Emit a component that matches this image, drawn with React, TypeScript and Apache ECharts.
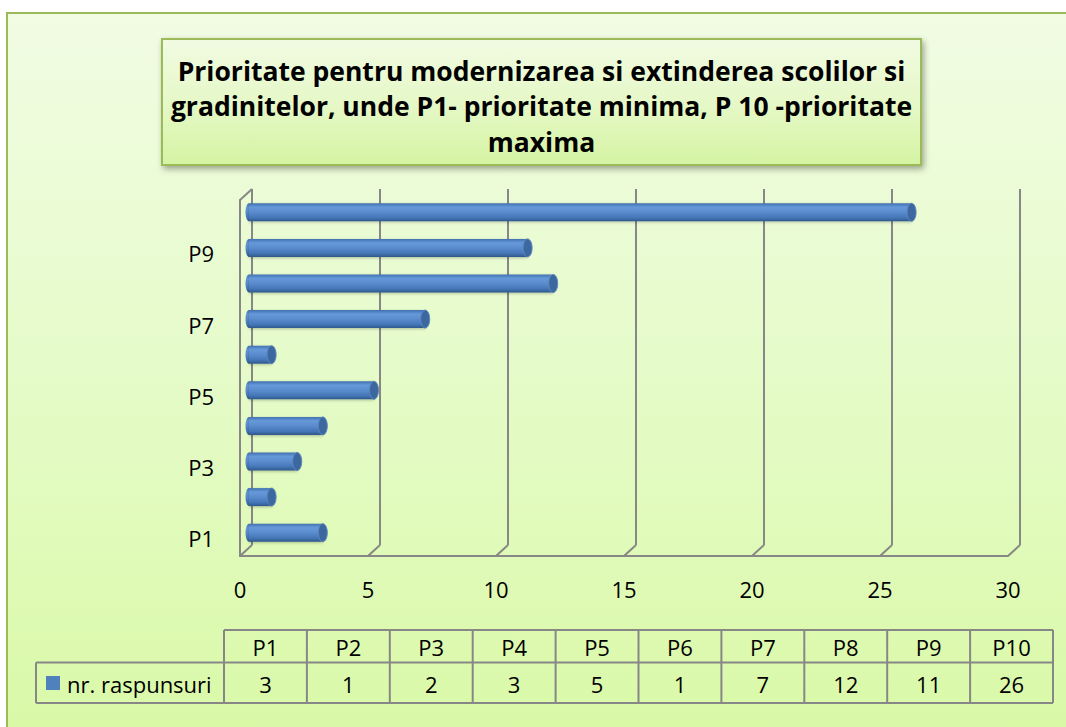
import React, { useEffect, useRef } from "react";
import * as echarts from "echarts";

// ---------- data ----------
const categories = ["P1", "P2", "P3", "P4", "P5", "P6", "P7", "P8", "P9", "P10"];
const values = [3, 1, 2, 3, 5, 1, 7, 12, 11, 26];
const seriesName = "nr. raspunsuri";
const xTicks = [0, 5, 10, 15, 20, 25, 30];
const titleLines = [
  "Prioritate pentru modernizarea si extinderea scolilor si",
  "gradinitelor, unde P1- prioritate minima, P 10 -prioritate",
  "maxima",
];

// ---------- layout ----------
const FRONT = { left: 240, top: 200, width: 768, height: 356 };
const DX = 12;
const DY = -11;
const GRID_COLOR = "#878787";
const FONT = "'Open Sans', Lato, sans-serif";
const LABEL_SIZE = 22;

const TABLE = { labelLeft: 36, left: 224, right: 1053, top: 630, mid: 662.5, bottom: 703 };

function buildTable(): any[] {
  const els: any[] = [];
  const n = categories.length;
  const colW = (TABLE.right - TABLE.left) / n;
  const line = (x1: number, y1: number, x2: number, y2: number) => ({
    type: "line",
    z: 10,
    shape: { x1, y1, x2, y2 },
    style: { stroke: GRID_COLOR, lineWidth: 2 },
  });
  els.push(line(TABLE.left, TABLE.top, TABLE.right, TABLE.top));
  els.push(line(TABLE.labelLeft, TABLE.mid, TABLE.right, TABLE.mid));
  els.push(line(TABLE.labelLeft, TABLE.bottom, TABLE.right, TABLE.bottom));
  els.push(line(TABLE.labelLeft, TABLE.mid, TABLE.labelLeft, TABLE.bottom));
  for (let i = 0; i <= n; i++) {
    const x = TABLE.left + i * colW;
    els.push(line(x, TABLE.top, x, TABLE.bottom));
  }
  const txt = (text: string, x: number, y: number, align: string) => ({
    type: "text",
    z: 10,
    style: {
      text,
      x,
      y,
      align,
      verticalAlign: "middle",
      textAlign: align,
      textVerticalAlign: "middle",
      fontSize: LABEL_SIZE,
      fontFamily: FONT,
      fill: "#000",
    },
  });
  for (let i = 0; i < n; i++) {
    const cx = TABLE.left + (i + 0.5) * colW;
    els.push(txt(categories[i], cx, (TABLE.top + TABLE.mid) / 2 + 1, "center"));
    els.push(txt(String(values[i]), cx, (TABLE.mid + TABLE.bottom) / 2 + 1, "center"));
  }
  els.push({
    type: "rect",
    z: 10,
    shape: { x: 46, y: 676, width: 14, height: 14 },
    style: { fill: "#4F81BD" },
  });
  els.push(txt(seriesName, 67, (TABLE.mid + TABLE.bottom) / 2 + 1, "left"));
  return els;
}

export default function App() {
  const ref = useRef<HTMLDivElement>(null);

  useEffect(() => {
    if (!ref.current) return;
    const chart = echarts.init(ref.current, undefined, { renderer: "svg" });

    const barGradient = new echarts.graphic.LinearGradient(0, 0, 0, 1, [
      { offset: 0, color: "#4171B0" },
      { offset: 0.22, color: "#6699DA" },
      { offset: 0.5, color: "#5A8BCD" },
      { offset: 0.8, color: "#4576B7" },
      { offset: 1, color: "#2E5889" },
    ]);

    const option: any = {
      animation: false,
      backgroundColor: "#ffffff",
      grid: [
        { left: FRONT.left, top: FRONT.top, width: FRONT.width, height: FRONT.height },
        { left: FRONT.left + DX, top: FRONT.top + DY, width: FRONT.width, height: FRONT.height },
      ],
      xAxis: [
        {
          gridIndex: 0,
          type: "value",
          min: 0,
          max: 30,
          interval: 5,
          axisLine: { show: true, lineStyle: { color: GRID_COLOR, width: 2 } },
          axisTick: { show: false },
          splitLine: { show: false },
          axisLabel: { margin: 22, fontSize: LABEL_SIZE, fontFamily: FONT, color: "#000" },
        },
        {
          gridIndex: 1,
          type: "value",
          min: 0,
          max: 30,
          interval: 5,
          axisLine: { show: false },
          axisTick: { show: false },
          axisLabel: { show: false },
          splitLine: { show: true, lineStyle: { color: GRID_COLOR, width: 2 } },
        },
      ],
      yAxis: [
        {
          gridIndex: 0,
          type: "category",
          data: categories,
          axisLine: { show: true, lineStyle: { color: GRID_COLOR, width: 2 } },
          axisTick: { show: false },
          splitLine: { show: false },
          axisLabel: { interval: 1, margin: 26, fontSize: LABEL_SIZE, fontFamily: FONT, color: "#000" },
        },
        {
          gridIndex: 1,
          type: "category",
          data: categories,
          show: false,
        },
      ],
      graphic: [
        {
          type: "rect",
          z: -10,
          silent: true,
          shape: { x: 7, y: 13, width: 1085, height: 740 },
          style: {
            fill: new echarts.graphic.LinearGradient(0, 0, 0, 1, [
              { offset: 0, color: "#F1FCE3" },
              { offset: 0.5, color: "#E5FBC8" },
              { offset: 1, color: "#D9F9A5" },
            ]),
            stroke: "#9BBB59",
            lineWidth: 2,
          },
        },
        {
          type: "rect",
          z: -5,
          silent: true,
          shape: { x: 162, y: 39, width: 759, height: 126 },
          style: {
            fill: new echarts.graphic.LinearGradient(0, 0, 0, 1, [
              { offset: 0, color: "#F1FBE2" },
              { offset: 0.5, color: "#E6F8C8" },
              { offset: 1, color: "#D5F4A3" },
            ]),
            stroke: "#9BBB59",
            lineWidth: 2,
            shadowBlur: 6,
            shadowOffsetX: 2,
            shadowOffsetY: 3,
            shadowColor: "rgba(0,0,0,0.35)",
          },
        },
        {
          type: "text",
          z: 5,
          style: {
            text: titleLines.join("\n"),
            x: 541.5,
            y: 53,
            align: "center",
            verticalAlign: "top",
            textAlign: "center",
            textVerticalAlign: "top",
            lineHeight: 35.5,
            fontSize: 26.5,
            fontWeight: "bold",
            fontFamily: FONT,
            fill: "#000",
          },
        },
        ...buildTable(),
      ],
      series: [
        {
          type: "custom",
          name: "walls",
          xAxisIndex: 0,
          yAxisIndex: 0,
          silent: true,
          z: 1,
          data: xTicks.map((t) => [t, 0]),
          encode: { x: 0, y: 1 },
          renderItem: (params: any, api: any) => {
            const v = api.value(0);
            const x = api.coord([v, 0])[0];
            const cs = params.coordSys;
            const bottom = cs.y + cs.height;
            const children: any[] = [
              {
                type: "line",
                shape: { x1: x, y1: bottom, x2: x + DX, y2: bottom + DY },
                style: { stroke: GRID_COLOR, lineWidth: 2 },
              },
            ];
            if (v === xTicks[0]) {
              children.push({
                type: "line",
                shape: { x1: x, y1: cs.y, x2: x + DX, y2: cs.y + DY },
                style: { stroke: GRID_COLOR, lineWidth: 2 },
              });
            }
            return { type: "group", children };
          },
        },
        {
          type: "custom",
          name: seriesName,
          xAxisIndex: 0,
          yAxisIndex: 0,
          z: 3,
          data: values.map((v, i) => [v, i]),
          encode: { x: 0, y: 1 },
          renderItem: (params: any, api: any) => {
            const v = api.value(0);
            const idx = api.value(1);
            const p0 = api.coord([0, idx]);
            const p1 = api.coord([v, idx]);
            const x0 = p0[0] + DX / 2;
            const x1 = p1[0] + DX / 2;
            const cy = p0[1] + DY / 2;
            const h = 18;
            return {
              type: "group",
              children: [
                {
                  type: "ellipse",
                  shape: { cx: x0 + 3, cy, rx: 3.5, ry: h / 2 },
                  style: { fill: barGradient },
                },
                {
                  type: "rect",
                  shape: { x: x0 + 3, y: cy - h / 2, width: Math.max(0, x1 - x0 - 3), height: h },
                  style: {
                    fill: barGradient,
                    shadowBlur: 3,
                    shadowOffsetY: 1,
                    shadowColor: "rgba(0,0,0,0.25)",
                  },
                },
                {
                  type: "ellipse",
                  shape: { cx: x1, cy, rx: 4.5, ry: h / 2 },
                  style: { fill: "#3D689F", stroke: "#5C88C2", lineWidth: 1 },
                },
              ],
            };
          },
        },
      ],
    };

    chart.setOption(option);
    return () => chart.dispose();
  }, []);

  return (
    <div
      ref={ref}
      style={{ position: "fixed", left: 0, top: 0, width: 1066, height: 727 }}
    />
  );
}
